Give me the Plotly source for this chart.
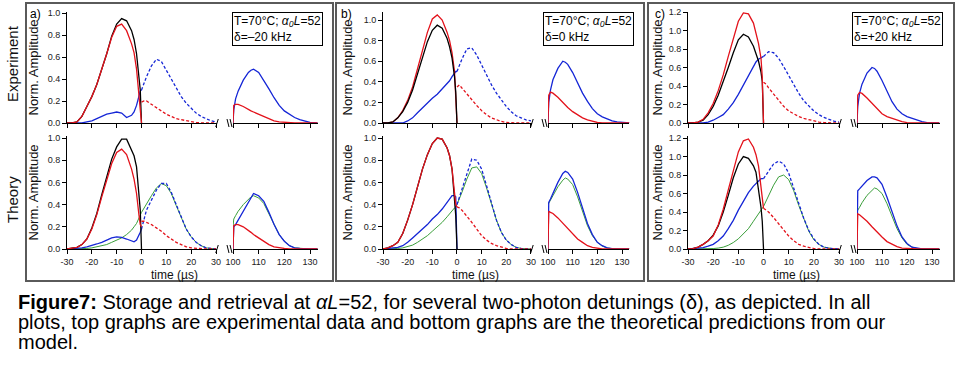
import plotly.graph_objects as go

W, H = 958, 367

# ---------------- data ----------------
PRE_T = [-30, -28, -26, -24, -22, -20, -18, -16, -14, -12, -10, -8, -6, -4, -3, -2, -1, -0.5, 0]
POST_T = [0, 1, 2, 4, 6, 8, 10, 12, 14, 16, 18, 20, 22, 24, 26, 28, 30]
RET_T = [100, 100.3, 101, 102, 104, 106, 107, 108, 110, 112, 114, 116, 118, 120, 122, 124, 126, 128, 130, 133]

# panel a (delta = -20 kHz), experiment
A_EXP_BLACK = [0, 0, 0.01, 0.06, 0.15, 0.24, 0.35, 0.48, 0.63, 0.79, 0.9, 0.95, 0.93, 0.84, 0.76, 0.63, 0.38, 0.3, 0]
A_EXP_RED = [0, 0, 0.01, 0.06, 0.15, 0.24, 0.35, 0.48, 0.63, 0.78, 0.88, 0.9, 0.84, 0.72, 0.64, 0.49, 0.27, 0.14, 0]
A_EXP_BLUE = [0, 0, 0, 0, 0.01, 0.02, 0.04, 0.06, 0.08, 0.09, 0.1, 0.09, 0.05, 0.07, 0.1, 0.16, 0.24, 0.29, 0.3]
A_EXP_BLUE_POST = [0.3, 0.36, 0.42, 0.52, 0.58, 0.56, 0.48, 0.39, 0.31, 0.24, 0.18, 0.13, 0.09, 0.06, 0.04, 0.02, 0.01]
A_EXP_RED_POST = [0.19, 0.2, 0.2, 0.17, 0.14, 0.11, 0.08, 0.06, 0.04, 0.03, 0.02, 0.01, 0.005, 0, 0, 0, 0]
A_EXP_BLUE_RET = [0, 0.12, 0.22, 0.29, 0.39, 0.46, 0.48, 0.49, 0.46, 0.39, 0.31, 0.23, 0.16, 0.11, 0.08, 0.05, 0.03, 0.015, 0.005, 0]
A_EXP_RED_RET = [0, 0.16, 0.17, 0.17, 0.15, 0.12, 0.11, 0.1, 0.08, 0.06, 0.04, 0.02, 0.01, 0.005, 0, 0, 0, 0, 0, 0]
# panel a, theory
A_TH_BLACK = [0, 0.005, 0.015, 0.04, 0.09, 0.19, 0.32, 0.49, 0.65, 0.81, 0.92, 0.99, 0.99, 0.9, 0.84, 0.74, 0.52, 0.35, 0]
A_TH_RED = [0, 0.005, 0.015, 0.04, 0.09, 0.18, 0.31, 0.47, 0.63, 0.77, 0.87, 0.9, 0.85, 0.72, 0.63, 0.5, 0.3, 0.22, 0.2]
A_TH_BLUE = [0, 0.002, 0.005, 0.01, 0.02, 0.03, 0.045, 0.06, 0.08, 0.1, 0.11, 0.105, 0.09, 0.07, 0.065, 0.08, 0.12, 0.15, 0.18]
A_TH_GREEN = [0, 0, 0, 0, 0.005, 0.01, 0.02, 0.03, 0.04, 0.06, 0.08, 0.1, 0.13, 0.17, 0.2, 0.23, 0.28, 0.3, 0.33]
A_TH_BLUE_POST = [0.18, 0.28, 0.35, 0.44, 0.53, 0.59, 0.59, 0.51, 0.4, 0.28, 0.18, 0.11, 0.06, 0.03, 0.01, 0.005, 0]
A_TH_GREEN_POST = [0.33, 0.37, 0.41, 0.48, 0.55, 0.59, 0.57, 0.5, 0.39, 0.28, 0.18, 0.11, 0.06, 0.03, 0.01, 0.005, 0]
A_TH_RED_POST = [0.25, 0.25, 0.24, 0.22, 0.19, 0.16, 0.12, 0.09, 0.06, 0.04, 0.02, 0.01, 0.005, 0, 0, 0, 0]
A_TH_BLUE_RET = [0, 0.2, 0.22, 0.26, 0.34, 0.43, 0.47, 0.5, 0.48, 0.43, 0.33, 0.22, 0.13, 0.07, 0.03, 0.01, 0.005, 0, 0, 0]
A_TH_GREEN_RET = [0.2, 0.27, 0.3, 0.34, 0.4, 0.45, 0.47, 0.48, 0.46, 0.41, 0.32, 0.22, 0.13, 0.07, 0.03, 0.01, 0.005, 0, 0, 0]
A_TH_RED_RET = [0, 0.21, 0.22, 0.22, 0.2, 0.17, 0.15, 0.13, 0.1, 0.07, 0.04, 0.02, 0.01, 0.005, 0, 0, 0, 0, 0, 0]

# panel b (delta = 0 kHz), experiment
B_EXP_BLACK = [0, 0, 0.01, 0.05, 0.11, 0.2, 0.32, 0.47, 0.63, 0.79, 0.9, 0.95, 0.92, 0.82, 0.74, 0.63, 0.45, 0.3, 0]
B_EXP_RED = [0, 0, 0.01, 0.05, 0.12, 0.22, 0.35, 0.52, 0.7, 0.88, 1.01, 1.05, 1.0, 0.88, 0.8, 0.68, 0.5, 0.3, 0]
B_EXP_BLUE = [0, 0, 0, 0, 0, 0.02, 0.05, 0.1, 0.15, 0.19, 0.24, 0.28, 0.33, 0.38, 0.41, 0.45, 0.48, 0.5, 0.5]
B_EXP_BLUE_POST = [0.5, 0.56, 0.62, 0.72, 0.73, 0.66, 0.56, 0.46, 0.37, 0.29, 0.22, 0.16, 0.11, 0.07, 0.05, 0.03, 0.02]
B_EXP_RED_POST = [0.35, 0.37, 0.34, 0.28, 0.22, 0.17, 0.12, 0.08, 0.05, 0.03, 0.015, 0.005, 0, 0, 0, 0, 0]
B_EXP_BLUE_RET = [0, 0.2, 0.32, 0.42, 0.53, 0.6, 0.59, 0.57, 0.49, 0.39, 0.29, 0.21, 0.14, 0.09, 0.06, 0.04, 0.02, 0.01, 0.005, 0]
B_EXP_RED_RET = [0, 0.27, 0.3, 0.29, 0.25, 0.2, 0.17, 0.15, 0.11, 0.08, 0.05, 0.03, 0.015, 0.005, 0, 0, 0, 0, 0, 0]
# panel b, theory
B_TH_BLACK = [0, 0.01, 0.03, 0.06, 0.14, 0.26, 0.4, 0.57, 0.72, 0.85, 0.95, 1.0, 0.99, 0.91, 0.84, 0.72, 0.48, 0.3, 0]
B_TH_RED = [0, 0.01, 0.03, 0.06, 0.14, 0.26, 0.4, 0.57, 0.72, 0.85, 0.95, 1.0, 0.99, 0.91, 0.84, 0.72, 0.48, 0.4, 0.38]
B_TH_BLUE = [0, 0.003, 0.008, 0.015, 0.03, 0.06, 0.1, 0.14, 0.18, 0.22, 0.27, 0.31, 0.36, 0.42, 0.45, 0.48, 0.48, 0.47, 0]
B_TH_GREEN = [0, 0, 0, 0.005, 0.01, 0.02, 0.035, 0.06, 0.09, 0.12, 0.16, 0.2, 0.24, 0.29, 0.32, 0.34, 0.37, 0.38, 0.4]
B_TH_BLUE_POST = [0.4, 0.47, 0.55, 0.69, 0.81, 0.8, 0.72, 0.57, 0.41, 0.26, 0.15, 0.08, 0.04, 0.015, 0.005, 0, 0]
B_TH_GREEN_POST = [0.4, 0.45, 0.51, 0.63, 0.73, 0.74, 0.68, 0.55, 0.4, 0.26, 0.15, 0.08, 0.04, 0.015, 0.005, 0, 0]
B_TH_RED_POST = [0.38, 0.37, 0.35, 0.3, 0.24, 0.18, 0.12, 0.08, 0.05, 0.03, 0.015, 0.005, 0, 0, 0, 0, 0]
B_TH_BLUE_RET = [0, 0.42, 0.45, 0.5, 0.6, 0.68, 0.7, 0.69, 0.63, 0.51, 0.36, 0.23, 0.13, 0.06, 0.03, 0.01, 0.003, 0, 0, 0]
B_TH_GREEN_RET = [0.4, 0.41, 0.44, 0.48, 0.56, 0.62, 0.64, 0.63, 0.58, 0.47, 0.33, 0.21, 0.12, 0.06, 0.025, 0.01, 0.003, 0, 0, 0]
B_TH_RED_RET = [0, 0.34, 0.33, 0.32, 0.28, 0.23, 0.21, 0.18, 0.14, 0.09, 0.06, 0.03, 0.015, 0.005, 0, 0, 0, 0, 0, 0]

# panel c (delta = +20 kHz), experiment
C_EXP_BLACK = [0, 0, 0.01, 0.03, 0.09, 0.18, 0.3, 0.44, 0.6, 0.76, 0.9, 0.96, 0.93, 0.83, 0.76, 0.67, 0.55, 0.45, 0]
C_EXP_RED = [0, 0, 0.01, 0.04, 0.11, 0.21, 0.35, 0.52, 0.72, 0.92, 1.1, 1.19, 1.18, 1.08, 0.98, 0.86, 0.7, 0.5, 0]
C_EXP_BLUE = [0, 0, 0, 0, 0.01, 0.03, 0.06, 0.09, 0.15, 0.22, 0.31, 0.41, 0.52, 0.62, 0.66, 0.69, 0.71, 0.72, 0.72]
C_EXP_BLUE_POST = [0.72, 0.75, 0.77, 0.76, 0.7, 0.61, 0.51, 0.41, 0.32, 0.24, 0.18, 0.13, 0.09, 0.06, 0.04, 0.02, 0.01]
C_EXP_RED_POST = [0.44, 0.42, 0.38, 0.31, 0.24, 0.18, 0.13, 0.1, 0.07, 0.05, 0.035, 0.02, 0.01, 0.005, 0, 0, 0]
C_EXP_BLUE_RET = [0, 0.18, 0.32, 0.42, 0.54, 0.6, 0.59, 0.56, 0.46, 0.34, 0.23, 0.15, 0.1, 0.07, 0.05, 0.03, 0.015, 0.005, 0, 0]
C_EXP_RED_RET = [0, 0.3, 0.33, 0.32, 0.27, 0.21, 0.18, 0.15, 0.1, 0.07, 0.05, 0.03, 0.015, 0.005, 0, 0, 0, 0, 0, 0]
# panel c, theory
C_TH_BLACK = [0, 0.005, 0.02, 0.05, 0.09, 0.15, 0.25, 0.4, 0.58, 0.77, 0.92, 1.0, 0.98, 0.9, 0.83, 0.66, 0.45, 0.3, 0]
C_TH_RED = [0, 0.005, 0.02, 0.05, 0.09, 0.14, 0.26, 0.43, 0.64, 0.86, 1.05, 1.17, 1.19, 1.1, 1.02, 0.9, 0.65, 0.5, 0.44]
C_TH_BLUE = [0, 0.003, 0.008, 0.015, 0.03, 0.05, 0.09, 0.14, 0.22, 0.31, 0.42, 0.52, 0.61, 0.68, 0.71, 0.74, 0.76, 0.76, 0.76]
C_TH_GREEN = [0, 0, 0, 0, 0, 0.005, 0.01, 0.02, 0.04, 0.07, 0.11, 0.16, 0.22, 0.3, 0.34, 0.38, 0.42, 0.44, 0.46]
C_TH_BLUE_POST = [0.76, 0.8, 0.85, 0.92, 0.95, 0.92, 0.82, 0.66, 0.49, 0.33, 0.2, 0.11, 0.05, 0.02, 0.008, 0.002, 0]
C_TH_GREEN_POST = [0.46, 0.52, 0.58, 0.69, 0.78, 0.8, 0.75, 0.63, 0.47, 0.32, 0.19, 0.1, 0.05, 0.02, 0.007, 0.002, 0]
C_TH_RED_POST = [0.44, 0.42, 0.4, 0.34, 0.27, 0.2, 0.14, 0.09, 0.05, 0.03, 0.015, 0.005, 0, 0, 0, 0, 0]
C_TH_BLUE_RET = [0, 0.63, 0.65, 0.68, 0.74, 0.78, 0.78, 0.77, 0.7, 0.56, 0.4, 0.25, 0.13, 0.06, 0.02, 0.008, 0.002, 0, 0, 0]
C_TH_GREEN_RET = [0.38, 0.42, 0.45, 0.5, 0.58, 0.64, 0.66, 0.65, 0.6, 0.49, 0.35, 0.22, 0.12, 0.05, 0.02, 0.006, 0.002, 0, 0, 0]
C_TH_RED_RET = [0, 0.38, 0.37, 0.35, 0.3, 0.24, 0.21, 0.18, 0.13, 0.08, 0.05, 0.025, 0.01, 0.004, 0, 0, 0, 0, 0, 0]

PANEL_LABELS = ["a)", "b)", "c)"]
DETUNINGS = ["δ=\u201320 kHz", "δ=0 kHz", "δ=+20 kHz"]
ROW_LABELS = ["Experiment", "Theory"]
X_LEFT_TICKS = [-30, -20, -10, 0, 10, 20, 30]
X_LEFT_TEXT = ["-30", "-20", "-10", "0", "10", "20", "30"]
X_RIGHT_TICKS = [100, 110, 120, 130]
X_RIGHT_TEXT = ["100", "110", "120", "130"]
CAPTION = [
    "<b>Figure7:</b> Storage and retrieval at <i>αL</i>=52, for several two-photon detunings (δ), as depicted. In all",
    "plots, top graphs are experimental data and bottom graphs are the theoretical predictions from our",
    "model.",
]

# ---------------- styling / geometry ----------------
RED, BLUE, GREEN, BLACK = "#e3121b", "#1526d6", "#3a9e3a", "#000000"
FONT = "Liberation Sans, Arial, sans-serif"
GEOM = [(67, 216.75, 233, 317.7), (383, 531.7, 548, 629.4), (688, 839.8, 857, 939.5)]
ROW_PX = [(12, 123), (136, 249)]
YMAX = [[1.01, 1.018], [1.078, 1.018], [1.2, 1.222]]
FRAMES = [(26, 3, 333, 281), (336, 3, 644, 281), (648, 3, 954, 281)]
BOX_LEFT = [232, 543, 852]
NORM_X = [33, 347, 657]
TIME_X = [174, 475, 796]
LABEL_X = [28, 339, 653]

DATA = {
    0: {
        0: [("L", PRE_T, A_EXP_BLUE, BLUE, "solid"), ("L", POST_T, A_EXP_BLUE_POST, BLUE, "dash"),
            ("L", PRE_T, A_EXP_BLACK, BLACK, "solid"), ("L", PRE_T, A_EXP_RED, RED, "solid"),
            ("L", POST_T, A_EXP_RED_POST, RED, "dash"),
            ("R", RET_T, A_EXP_BLUE_RET, BLUE, "solid"), ("R", RET_T, A_EXP_RED_RET, RED, "solid")],
        1: [("L", PRE_T, A_TH_GREEN, GREEN, "solid"), ("L", POST_T, A_TH_GREEN_POST, GREEN, "solid"),
            ("L", PRE_T, A_TH_BLUE, BLUE, "solid"), ("L", POST_T, A_TH_BLUE_POST, BLUE, "dash"),
            ("L", PRE_T, A_TH_BLACK, BLACK, "solid"), ("L", PRE_T, A_TH_RED, RED, "solid"),
            ("L", POST_T, A_TH_RED_POST, RED, "dash"),
            ("R", RET_T, A_TH_GREEN_RET, GREEN, "solid"), ("R", RET_T, A_TH_BLUE_RET, BLUE, "solid"),
            ("R", RET_T, A_TH_RED_RET, RED, "solid")],
    },
    1: {
        0: [("L", PRE_T, B_EXP_BLUE, BLUE, "solid"), ("L", POST_T, B_EXP_BLUE_POST, BLUE, "dash"),
            ("L", PRE_T, B_EXP_RED, RED, "solid"), ("L", PRE_T, B_EXP_BLACK, BLACK, "solid"),
            ("L", POST_T, B_EXP_RED_POST, RED, "dash"),
            ("R", RET_T, B_EXP_BLUE_RET, BLUE, "solid"), ("R", RET_T, B_EXP_RED_RET, RED, "solid")],
        1: [("L", PRE_T, B_TH_GREEN, GREEN, "solid"), ("L", POST_T, B_TH_GREEN_POST, GREEN, "solid"),
            ("L", PRE_T, B_TH_BLUE, BLUE, "solid"), ("L", POST_T, B_TH_BLUE_POST, BLUE, "dash"),
            ("L", PRE_T, B_TH_BLACK, BLACK, "solid"), ("L", PRE_T, B_TH_RED, RED, "solid"),
            ("L", POST_T, B_TH_RED_POST, RED, "dash"),
            ("R", RET_T, B_TH_GREEN_RET, GREEN, "solid"), ("R", RET_T, B_TH_BLUE_RET, BLUE, "solid"),
            ("R", RET_T, B_TH_RED_RET, RED, "solid")],
    },
    2: {
        0: [("L", PRE_T, C_EXP_BLUE, BLUE, "solid"), ("L", POST_T, C_EXP_BLUE_POST, BLUE, "dash"),
            ("L", PRE_T, C_EXP_BLACK, BLACK, "solid"), ("L", PRE_T, C_EXP_RED, RED, "solid"),
            ("L", POST_T, C_EXP_RED_POST, RED, "dash"),
            ("R", RET_T, C_EXP_BLUE_RET, BLUE, "solid"), ("R", RET_T, C_EXP_RED_RET, RED, "solid")],
        1: [("L", PRE_T, C_TH_GREEN, GREEN, "solid"), ("L", POST_T, C_TH_GREEN_POST, GREEN, "solid"),
            ("L", PRE_T, C_TH_BLUE, BLUE, "solid"), ("L", POST_T, C_TH_BLUE_POST, BLUE, "dash"),
            ("L", PRE_T, C_TH_BLACK, BLACK, "solid"), ("L", PRE_T, C_TH_RED, RED, "solid"),
            ("L", POST_T, C_TH_RED_POST, RED, "dash"),
            ("R", RET_T, C_TH_GREEN_RET, GREEN, "solid"), ("R", RET_T, C_TH_BLUE_RET, BLUE, "solid"),
            ("R", RET_T, C_TH_RED_RET, RED, "solid")],
    },
}


def px_x(px):
    return px / W


def px_y(py):
    return 1 - py / H


def ax_name(kind, n):
    return f"{kind}axis" if n == 1 else f"{kind}axis{n}"


def ax_ref(kind, n):
    return kind if n == 1 else f"{kind}{n}"


fig = go.Figure()
layout = {}
shapes = []
annotations = []

for p in range(3):
    yx, lend, rstart, rend = GEOM[p]
    for r in range(2):
        idx = p * 2 + r
        yn, xl, xr = idx + 1, 2 * idx + 1, 2 * idx + 2
        top_px, bot_px = ROW_PX[r]
        common = dict(showgrid=False, zeroline=False, showline=True, linecolor="black", linewidth=1,
                      ticks="outside", ticklen=4, tickwidth=1, tickcolor="black", automargin=False,
                      tickfont=dict(family=FONT, size=9, color="#222"))
        layout[ax_name("y", yn)] = dict(
            domain=[px_y(bot_px), px_y(top_px)], range=[0, YMAX[p][r]], anchor=ax_ref("x", xl),
            dtick=0.2, tick0=0, tickformat=".1f", **common)
        layout[ax_name("x", xl)] = dict(
            domain=[px_x(yx), px_x(lend)], range=[-30, 30.3], anchor=ax_ref("y", yn),
            tickvals=X_LEFT_TICKS, ticktext=X_LEFT_TEXT, showticklabels=(r == 1), **common)
        layout[ax_name("x", xr)] = dict(
            domain=[px_x(rstart), px_x(rend)], range=[100, 133], anchor=ax_ref("y", yn),
            tickvals=X_RIGHT_TICKS, ticktext=X_RIGHT_TEXT, showticklabels=(r == 1), **common)

        for seg, t, y, color, dash in DATA[p][r]:
            xa = ax_ref("x", xl if seg == "L" else xr)
            fig.add_trace(go.Scatter(
                x=t, y=y, mode="lines", xaxis=xa, yaxis=ax_ref("y", yn),
                line=dict(color=color, width=1.3 if color != GREEN else 1.0,
                          dash="3px,2px" if dash == "dash" else "solid"),
                showlegend=False, hoverinfo="skip"))

        # axis-break marks
        y0 = bot_px
        shapes.append(dict(type="line", xref="paper", yref="paper",
                           x0=px_x(lend - 1), y0=px_y(y0 + 4), x1=px_x(lend + 1.5), y1=px_y(y0 - 4),
                           line=dict(color="black", width=1)))
        shapes.append(dict(type="line", xref="paper", yref="paper",
                           x0=px_x(rstart - 6), y0=px_y(y0 - 4), x1=px_x(rstart - 4), y1=px_y(y0 + 4),
                           line=dict(color="black", width=1)))
        shapes.append(dict(type="line", xref="paper", yref="paper",
                           x0=px_x(rstart - 3), y0=px_y(y0 - 4), x1=px_x(rstart - 1), y1=px_y(y0 + 4),
                           line=dict(color="black", width=1)))

        annotations.append(dict(text="Norm. Amplitude", textangle=-90, xref="paper", yref="paper",
                                x=px_x(NORM_X[p]), y=px_y((top_px + bot_px) / 2),
                                xanchor="center", yanchor="middle", showarrow=False,
                                font=dict(family=FONT, size=13, color="#111")))

    fx0, fy0, fx1, fy1 = FRAMES[p]
    shapes.append(dict(type="rect", xref="paper", yref="paper",
                       x0=px_x(fx0), y0=px_y(fy1), x1=px_x(fx1), y1=px_y(fy0),
                       line=dict(color="#5a5a5a", width=2)))
    annotations.append(dict(text=PANEL_LABELS[p], xref="paper", yref="paper",
                            x=px_x(LABEL_X[p]), y=px_y(14), xanchor="left", yanchor="middle",
                            showarrow=False, font=dict(family=FONT, size=12, color="black")))
    annotations.append(dict(
        text="T=70°C; <i>α₀L</i>=52<br>" + DETUNINGS[p],
        xref="paper", yref="paper", x=px_x(BOX_LEFT[p]), y=px_y(12), xanchor="left", yanchor="top",
        align="left", showarrow=False, bordercolor="black", borderwidth=1, borderpad=1,
        bgcolor="white", font=dict(family=FONT, size=12, color="black")))
    annotations.append(dict(text="time (µs)", xref="paper", yref="paper",
                            x=px_x(TIME_X[p]), y=px_y(275), xanchor="center", yanchor="middle",
                            showarrow=False, font=dict(family=FONT, size=12, color="#111")))

for text, cy in zip(ROW_LABELS, [64, 200]):
    annotations.append(dict(text=text, textangle=-90, xref="paper", yref="paper",
                            x=px_x(12), y=px_y(cy), xanchor="center", yanchor="middle",
                            showarrow=False, font=dict(family=FONT, size=15, color="#111")))

for line, cy in zip(CAPTION, [302, 322, 342]):
    annotations.append(dict(text=line, xref="paper", yref="paper",
                            x=px_x(16), y=px_y(cy), xanchor="left", yanchor="middle",
                            showarrow=False, font=dict(family=FONT, size=20, color="black")))

fig.update_layout(
    width=W, height=H, margin=dict(l=0, r=0, t=0, b=0, autoexpand=False),
    paper_bgcolor="white", plot_bgcolor="white",
    shapes=shapes, annotations=annotations, **layout)

fig.write_html("out.html", config={"displayModeBar": False, "staticPlot": True},
               post_script="document.body.style.margin='0';document.body.style.overflow='hidden';")
